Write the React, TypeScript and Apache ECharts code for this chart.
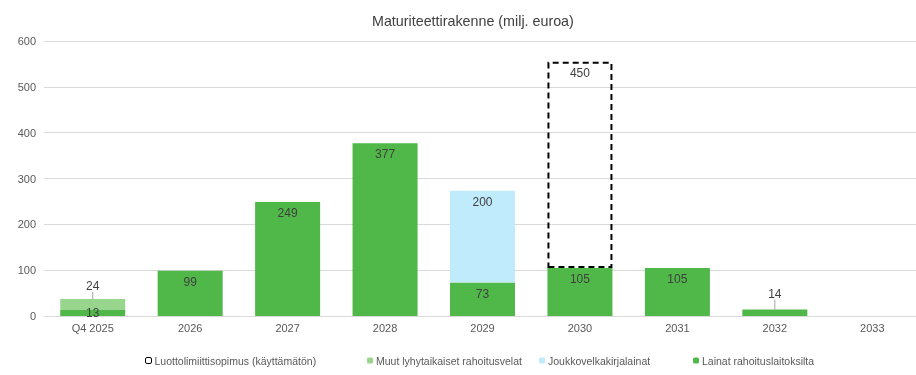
import React, { useEffect, useRef } from "react";
import * as echarts from "echarts";

const categories = ["Q4 2025", "2026", "2027", "2028", "2029", "2030", "2031", "2032", "2033"];
const lainat = [13, 99, 249, 377, 73, 105, 105, 14, null];
const muut = [24, null, null, null, null, null, null, null, null];
const joukko = [null, null, null, null, 200, null, null, null, null];
const luotto = [null, null, null, null, null, 450, null, null, null];
const yTicks = [0, 100, 200, 300, 400, 500, 600];

const FONT = "Liberation Sans, Arial, sans-serif";
const TXT = "#404040";

export default function App() {
  const ref = useRef<HTMLDivElement>(null);
  useEffect(() => {
    const chart = echarts.init(ref.current!, null, { renderer: "svg" });
    const lbl = { show: true, position: "insideTop", distance: 5, color: TXT, fontSize: 12, fontFamily: FONT };
    const legendBase = {
      top: 350,
      itemWidth: 6,
      itemHeight: 6,
      itemGap: 0,
      textStyle: { color: "#595959", fontSize: 10.5, fontFamily: FONT, padding: [0, 0, 0, -2] },
    };
    const leader = { show: true, lineStyle: { color: "#a6a6a6", width: 1 } };
    chart.setOption({
      animation: false,
      title: {
        text: "Maturiteettirakenne (milj. euroa)",
        left: 367,
        top: 9,
        textStyle: { color: TXT, fontSize: 14.3, fontWeight: "normal", fontFamily: FONT },
      },
      legend: [
        {
          ...legendBase,
          left: 140,
          data: [{ name: "Luottolimiittisopimus (käyttämätön)", itemStyle: { borderWidth: 1, borderType: "solid" } }],
        },
        { ...legendBase, left: 362, data: ["Muut lyhytaikaiset rahoitusvelat"] },
        { ...legendBase, left: 534, data: ["Joukkovelkakirjalainat"] },
        { ...legendBase, left: 688, data: ["Lainat rahoituslaitoksilta"] },
      ],
      grid: { left: 44, top: 41, width: 877, height: 275 },
      xAxis: {
        type: "category",
        data: categories,
        axisLine: { lineStyle: { color: "#d9d9d9" } },
        axisTick: { show: false },
        axisLabel: { color: "#595959", fontSize: 11, fontFamily: FONT, margin: 6 },
      },
      yAxis: {
        type: "value",
        min: yTicks[0],
        max: yTicks[yTicks.length - 1],
        interval: 100,
        axisLine: { show: false },
        axisTick: { show: false },
        splitLine: { lineStyle: { color: "#d9d9d9" } },
        axisLabel: { color: "#595959", fontSize: 11, fontFamily: FONT, margin: 8 },
      },
      series: [
        {
          name: "Lainat rahoituslaitoksilta",
          type: "bar",
          stack: "t",
          barWidth: 65,
          data: lainat.map((v, i) => {
            if (i === 0) return { value: v, label: { position: "inside", offset: [0, -3] } };
            if (i === 7) return { value: v, label: { position: "top", distance: 2 }, labelLine: leader };
            return v;
          }),
          itemStyle: { color: "#50b848" },
          label: lbl,
          labelLayout: (p: any) => (p.dataIndex === 7 ? { dy: -8 } : {}),
        },
        {
          name: "Muut lyhytaikaiset rahoitusvelat",
          type: "bar",
          stack: "t",
          barWidth: 65,
          data: muut.map((v) => (v == null ? v : { value: v, labelLine: leader })),
          itemStyle: { color: "#98d68e" },
          label: { ...lbl, position: "top", distance: 1 },
          labelLayout: { dy: -6 },
        },
        {
          name: "Joukkovelkakirjalainat",
          type: "bar",
          stack: "t",
          barWidth: 65,
          data: joukko,
          itemStyle: { color: "#c0ebfc" },
          label: lbl,
        },
        {
          name: "Luottolimiittisopimus (käyttämätön)",
          type: "bar",
          stack: "t",
          barWidth: 65,
          data: luotto,
          itemStyle: { color: "rgba(255,255,255,0)", borderColor: "#000", borderWidth: 2, borderType: [6, 4] },
          label: lbl,
        },
      ],
    });
    return () => chart.dispose();
  }, []);
  return (
    <div style={{ position: "fixed", left: 0, top: 0, width: 916, height: 375, overflow: "hidden" }}>
      <div ref={ref} style={{ position: "absolute", left: 0, top: 0, width: 930, height: 375 }} />
    </div>
  );
}
